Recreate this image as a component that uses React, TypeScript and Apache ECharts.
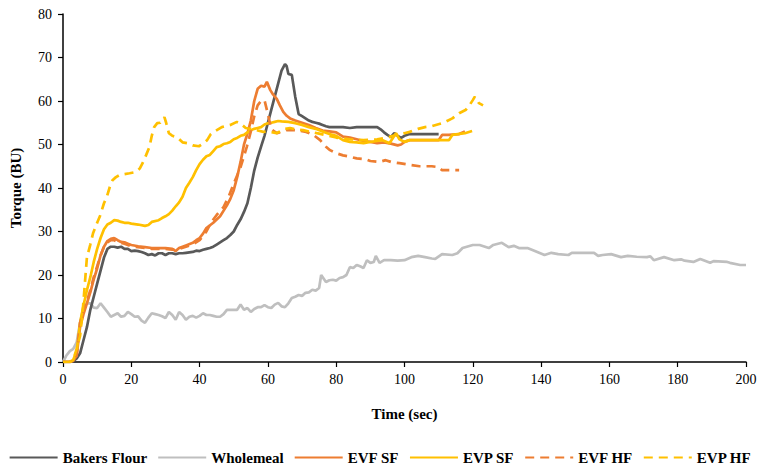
import React, { useEffect, useRef } from "react";
import * as echarts from "echarts";

// [time (sec), torque (BU)]
const bakersFlour: [number, number][] = [
  [0, 0], [1, 0], [2, 0], [3, 0.2], [4, 0.8], [5, 2], [6, 5], [7, 8], [8, 12], [9, 15], [10, 18], [11, 21], [12, 24], [13, 26],
  [14, 26.5], [15, 26.5], [16, 26.3], [17, 26.5], [18, 26], [19, 26], [20, 25.5], [21, 25.6], [22, 25.5], [23, 25.3], [24, 25],
  [25, 24.6], [26, 24.8], [27, 24.5], [28, 25], [29, 25], [30, 24.6], [31, 25], [32, 25], [33, 24.8], [34, 25], [35, 25],
  [36, 25.1], [37, 25.2], [38, 25.3], [39, 25.6], [40, 25.5], [41, 25.8], [42, 26], [43, 26.2], [44, 26.5], [45, 27], [46, 27.5],
  [47, 28], [48, 28.5], [49, 29.2], [50, 30], [51, 31.5], [52, 32.8], [53, 34.5], [54, 36.5], [55, 40], [56, 44], [57, 47],
  [58, 49.5], [59, 52], [60, 55], [61, 58], [62, 61], [63, 64], [64, 67], [65, 68.5], [65.5, 68], [66, 66.2], [67, 66],
  [68, 61], [69, 57], [70, 56.5], [71, 56], [72, 55.5], [73, 55.2], [74, 55], [75, 54.8], [76, 54.5], [77, 54.2], [78, 54],
  [80, 54], [82, 54], [84, 53.8], [86, 54], [88, 54], [90, 54], [92, 54], [93, 53.5], [94, 52.8], [95, 52.2], [96, 51.7],
  [97, 52.6], [98, 52], [99, 51.5], [100, 52], [101.5, 52.4], [104, 52.4], [110, 52.4]
];

const wholemeal: [number, number][] = [
  [0, 0], [1, 1.5], [2, 2.5], [3, 3], [4, 4.5], [5, 9], [6, 12.5], [7, 13.5], [8, 13.5], [9, 12.5], [10, 12.4], [11, 13.5],
  [12, 12.5], [13, 11.5], [14, 10.4], [15, 10.8], [16, 11.2], [17, 10.4], [18, 10.6], [19, 11.5], [20, 11], [21, 10.4],
  [22, 10.5], [23, 9.5], [24, 9], [25, 10.2], [26, 11.2], [27, 11], [28, 10.8], [29, 10.5], [30, 10.1], [31, 11.5], [32, 10.8],
  [33, 9.7], [34, 11.5], [35, 10.8], [36, 9.7], [37, 10.4], [38, 10.6], [39, 10.2], [40, 10.6], [41, 11.2], [42, 10.8],
  [43, 10.8], [44, 10.6], [45, 10.4], [46, 10.4], [47, 11], [48, 12], [49, 12], [50, 12], [51, 12], [52, 13.2], [53, 12],
  [54, 12.4], [55, 11.5], [56, 12.2], [57, 12.6], [58, 12.6], [59, 13.1], [60, 12.6], [61, 12.4], [62, 13.2], [63, 13.6],
  [64, 12.8], [65, 12.6], [66, 13.5], [67, 14.7], [68, 15], [69, 15.4], [70, 15.2], [71, 15.9], [72, 16], [73, 16.6],
  [74, 16.4], [75, 17], [75.6, 20], [77, 18.4], [78, 18.8], [79, 18.9], [80, 18.7], [81, 19.3], [82, 19.5], [83, 20],
  [84, 21.8], [85, 21.6], [86, 22.3], [87, 22], [88, 21.6], [89, 23.4], [90, 22.8], [91, 23], [91.6, 24.4], [92.7, 22.8],
  [94, 23.4], [96, 23.4], [98, 23.3], [100, 23.4], [102, 24.1], [104, 24.4], [106, 24.1], [108, 23.8], [109, 23.7],
  [111, 24.8], [114, 24.6], [115.5, 25], [117, 26.2], [120, 26.9], [122, 26.9], [124.7, 26.2], [126, 26.9], [128.5, 27.4],
  [130.5, 26.4], [132, 26.7], [133.5, 26.2], [136, 26.2], [138, 25.6], [141, 24.6], [143, 25.1], [145, 24.8], [148, 24.6],
  [149, 25.1], [152, 25.1], [155.5, 25.1], [156.7, 24.4], [158, 24.6], [160.5, 24.8], [163.4, 24.1], [165.4, 24.4],
  [168, 24.2], [171, 24.1], [172, 24.3], [173, 23.4], [176, 24.1], [179, 23.4], [181, 23.6], [182, 23.3], [184.6, 23],
  [186.6, 23.7], [189.5, 22.8], [190.5, 23.2], [194.5, 23], [195.3, 22.8], [198.3, 22.3], [200, 22.3]
];

const evfSF: [number, number][] = [
  [0, 0], [1, 0], [2, 0], [3, 0.3], [4, 1.5], [5, 8], [6, 11], [7, 13.5], [8, 16], [9, 19], [10, 21.5], [11, 24.5], [12, 26.5],
  [13, 27.8], [14, 28.3], [15, 28.5], [16, 28], [17, 27.6], [18, 27.5], [19, 27.2], [20, 26.9], [22, 26.6], [24, 26.4],
  [26, 26.2], [28, 26.2], [30, 26.2], [32, 26], [33, 25.5], [34, 26.2], [36, 26.8], [38, 27.4], [39, 28], [40, 28.5],
  [41, 29.5], [42, 30.8], [44, 32], [46, 33.5], [48, 36], [49, 37.5], [50, 39.5], [51, 42.5], [52, 46], [53, 50], [54, 52.5],
  [55, 55.5], [56, 60], [57, 62.8], [58, 63.5], [59, 63.3], [59.7, 64.4], [60.7, 62.5], [61.5, 61.5], [62.6, 60.5],
  [63.5, 59], [64.5, 57.5], [65.5, 56.6], [66.5, 56], [68, 55.5], [70, 55], [72, 54.5], [74, 53.8], [76, 53.2], [78, 53],
  [80, 52.8], [82, 51.8], [84, 51.6], [86, 51.2], [88, 50.8], [90, 50.6], [92, 50.3], [94, 50.5], [96, 50.2], [98, 49.8],
  [99, 50], [100, 50.6], [101.5, 51], [110, 51], [111, 52.2], [113, 52.2], [116, 52.4], [117.7, 53]
];

const evpSF: [number, number][] = [
  [0, 0], [1, 0], [2, 0], [3, 0.5], [4, 2.5], [5, 9], [6, 13], [7, 16.5], [8, 19.5], [9, 23], [10, 26], [11, 28.5], [12, 30.5],
  [13, 31.6], [14, 32], [15, 32.6], [16, 32.5], [17, 32.2], [18, 32], [19, 32], [20, 31.8], [22, 31.6], [24, 31.3],
  [25, 31.5], [26, 32.2], [28, 32.6], [29, 33.1], [30, 33.5], [31, 34], [32, 34.8], [33, 35.8], [34, 36.7], [35, 38],
  [36, 40], [37, 41.2], [38, 42.5], [39, 44.1], [40, 45.5], [41, 46.5], [42, 47.3], [43, 47.6], [44, 48.5], [45, 49.4],
  [46, 49.6], [47, 50.1], [48, 50.3], [49, 50.6], [50, 51.2], [51, 51.5], [52, 52], [53, 52.2], [54, 52.8], [55, 53.3],
  [56, 53.6], [57, 53.8], [58, 54], [59, 54.6], [60, 54.9], [61, 55], [62, 55.2], [63, 55.4], [64, 55.3], [66, 55.2],
  [68, 54.9], [70, 54.5], [72, 54], [74, 53.6], [76, 53], [78, 52.4], [80, 52], [82, 51], [84, 50.6], [86, 50.5], [88, 50.3],
  [90, 50.6], [92, 50.8], [93.6, 51], [95.6, 50.3], [97.5, 52.6], [98.5, 51.2], [100, 50.6], [101.5, 51], [105, 51],
  [110, 51], [113, 51], [114, 52.2], [117.7, 52.6], [119.8, 53.1]
];

const evfHF: [number, number][] = [
  [0, 0], [2, 0], [3, 0.3], [4, 1.5], [5, 9], [6, 11.5], [7, 14], [8, 16.5], [9, 19.5], [10, 22], [11, 24.5], [12, 26.5],
  [13, 27.5], [14, 28], [15, 28], [16, 27.6], [18, 27.2], [20, 26.6], [22, 26.4], [24, 26.2], [26, 26], [28, 26], [30, 26],
  [32, 25.8], [34, 26], [36, 26.5], [38, 27], [40, 28], [42, 30], [43.3, 32], [45, 33.8], [47, 35.6], [48.5, 38], [50, 41],
  [52, 44.8], [53.8, 49.4], [55, 53], [56, 56.5], [57, 59], [58, 60], [59, 60.2], [60, 57], [61, 53.5], [62.6, 52.6],
  [65.4, 53.3], [68.3, 53.3], [71.2, 52.9], [73.3, 52.2], [75.3, 51], [77, 49.5], [78.2, 48.7], [80, 48], [82, 47.5],
  [84, 47.2], [86, 46.8], [88.7, 46.6], [90, 46.2], [92.7, 46], [94.5, 46.4], [96, 46], [98.5, 45.7], [101, 45.4],
  [104.4, 45], [108, 45], [110, 44.8], [111, 44.1], [116, 44.1]
];

const evpHF: [number, number][] = [
  [0, 0], [2, 0], [3, 0.5], [4, 3], [5, 6], [5.8, 12], [7, 24], [8, 27], [8.8, 29.6], [10, 32], [10.8, 33.5], [12, 36.5],
  [12.8, 37.9], [14, 41], [14.5, 41.8], [15.5, 42.5], [16.6, 43], [18, 43.2], [19.5, 43.4], [21.5, 43.7], [22.5, 44.5],
  [23.3, 45.7], [24.3, 47.5], [25.3, 49.4], [26, 52], [26.7, 54], [27.6, 54.9], [28.5, 55], [29.2, 55.6], [29.7, 56.3],
  [30.2, 55], [31, 52.6], [32, 52], [33.4, 51.7], [35, 50.5], [36.3, 50.3], [38, 49.8], [39.8, 49.6], [41, 50.2],
  [42.2, 51], [43.3, 52.4], [44.2, 52.9], [46.5, 54], [49, 54.5], [50.9, 55.2], [52, 54.8], [53.5, 53.8], [55, 53.6],
  [58.7, 52.9], [60, 53], [62.6, 52.6], [64.5, 53.5], [66.5, 53.8], [68, 53.5], [70.3, 53.3], [72, 53], [75, 52.5],
  [78, 52], [80, 51.6], [84, 51.2], [88, 51], [92, 51.2], [95, 51.6], [97.5, 52.2], [100, 52.6], [101.5, 52.9], [104, 53.6],
  [106, 54], [108, 54.2], [111, 54.9], [112, 55.2], [114, 56], [116, 57.2], [118, 58], [119, 59], [120, 60.2], [120.6, 61],
  [121.8, 59.5], [123, 59]
];

const seriesNames = ["Bakers Flour", "Wholemeal", "EVF SF", "EVP SF", "EVF HF", "EVP HF"];
const seriesData = [bakersFlour, wholemeal, evfSF, evpSF, evfHF, evpHF];
const seriesColors = ["#595959", "#BFBFBF", "#ED7D31", "#FFC000", "#ED7D31", "#FFC000"];
const seriesDashed = [false, false, false, false, true, true];

const FONT = "'Liberation Serif', 'Times New Roman', serif";

export default function App() {
  const ref = useRef<HTMLDivElement>(null);
  useEffect(() => {
    if (!ref.current) return;
    const chart = echarts.init(ref.current, undefined, { renderer: "svg" });
    chart.setOption({
      animation: false,
      backgroundColor: "#ffffff",
      grid: { left: 58, right: 14, top: 14, bottom: 111, containLabel: false },
      legend: {
        data: seriesNames,
        bottom: 3,
        left: "center",
        itemWidth: 48,
        itemHeight: 12,
        itemGap: 10,
        itemStyle: { opacity: 0, color: "transparent", borderWidth: 0, borderColor: "transparent" },
        textStyle: { fontFamily: FONT, fontSize: 15, fontWeight: "bold", color: "#000" },
        selectedMode: false,
      },
      xAxis: {
        type: "value",
        min: 0,
        max: 200,
        interval: 20,
        name: "Time (sec)",
        nameLocation: "middle",
        nameGap: 44,
        nameTextStyle: { fontFamily: FONT, fontSize: 15, fontWeight: "bold", color: "#000" },
        axisLine: { show: true, lineStyle: { color: "#000", width: 1.5 } },
        axisTick: { show: true, length: 5, lineStyle: { color: "#000", width: 1.2 } },
        axisLabel: { fontFamily: FONT, fontSize: 14, color: "#000", margin: 10 },
        splitLine: { show: false },
      },
      yAxis: {
        type: "value",
        min: 0,
        max: 80,
        interval: 10,
        name: "Torque (BU)",
        nameLocation: "middle",
        nameGap: 40,
        nameRotate: 90,
        nameTextStyle: { fontFamily: FONT, fontSize: 15, fontWeight: "bold", color: "#000" },
        axisLine: { show: true, lineStyle: { color: "#000", width: 1.5 } },
        axisTick: { show: true, length: 5, lineStyle: { color: "#000", width: 1.2 } },
        axisLabel: { fontFamily: FONT, fontSize: 14, color: "#000", margin: 11 },
        splitLine: { show: false },
      },
      series: seriesNames.map((name, i) => ({
        name,
        type: "line",
        data: seriesData[i],
        symbol: "none",
        showSymbol: false,
        smooth: false,
        z: i === 1 ? 1 : 2 + i,
        lineStyle: {
          color: seriesColors[i],
          width: 2.7,
          type: seriesDashed[i] ? [9, 6] : "solid",
        },
        itemStyle: { color: seriesColors[i] },
        emphasis: { disabled: true },
      })),
    });
    return () => chart.dispose();
  }, []);
  return <div ref={ref} style={{ position: "absolute", left: 0, top: 0, width: 760, height: 473 }} />;
}
